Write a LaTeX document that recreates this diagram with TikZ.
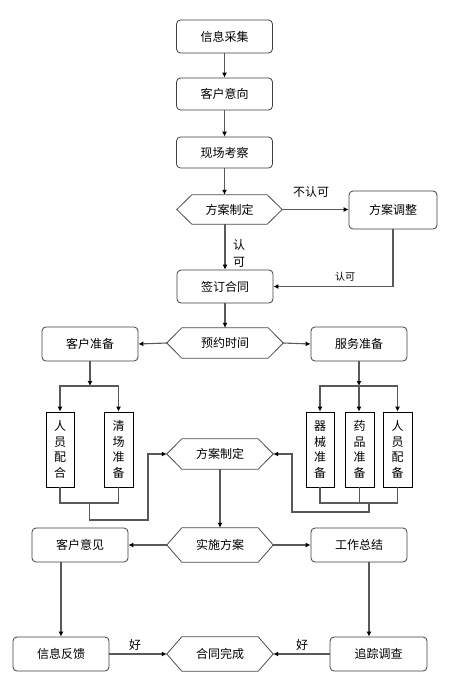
\documentclass[tikz,border=0pt]{standalone}
\usepackage{fontspec}
\setmainfont{Noto Sans CJK SC}
\usetikzlibrary{arrows.meta}
\newcommand\hexoutline[1]{\draw[hexline] (#1.west) -- ([xshift=15pt]#1.north west) -- ([xshift=-15pt]#1.north east) -- (#1.east) -- ([xshift=-15pt]#1.south east) -- ([xshift=15pt]#1.south west) -- cycle;}
\tikzset{
  box/.style={draw=black!75, line width=0.8pt, rounded corners=4pt, minimum width=96pt, minimum height=34pt, inner sep=0pt, font=\fontsize{12}{14}\selectfont},
  hexnode/.style={minimum width=106pt, minimum height=30pt, inner sep=0pt, font=\fontsize{12}{14}\selectfont},
  hexline/.style={draw=black!70, line width=0.8pt},
  vbox/.style={draw=black, line width=0.8pt, minimum width=28pt, minimum height=75pt, inner sep=0pt, align=center, font=\fontsize{12}{15.5}\selectfont},
  arr/.style={draw=black!65, line width=1.1pt, -{Latex[length=5pt,width=5pt,color=black]}},
  ln/.style={draw=black!65, line width=1.1pt},
  lbl/.style={font=\fontsize{12}{14}\selectfont, inner sep=0pt},
}
\begin{document}
\begin{tikzpicture}[x=1pt,y=-1pt]
\useasboundingbox[fill=white] (0,0) rectangle (462,687);
% nodes
\node[box, minimum height=33pt] (n1) at (224.5,36.5) {信息采集};
\node[box, minimum height=32pt] (n2) at (224.5,94) {客户意向};
\node[box, minimum height=31pt] (n3) at (224.5,152.5) {现场考察};
\node[hexnode, minimum width=105pt, minimum height=29pt] (h1) at (229.5,209.5) {方案制定};
\hexoutline{h1}
\node[box, minimum width=88pt, minimum height=38pt] (adj) at (393,210) {方案调整};
\node[box, minimum height=33pt] (n4) at (225,286.5) {签订合同};
\node[hexnode, minimum width=116pt] (h2) at (225,343) {预约时间};
\hexoutline{h2}
\node[box] (kz) at (90,344) {客户准备};
\node[box] (fz) at (359,344) {服务准备};
\node[vbox] (b1) at (60,449.5) {人\\员\\配\\合};
\node[vbox, minimum width=29pt] (b2) at (118.5,449.5) {清\\场\\准\\备};
\node[vbox] (b3) at (320,449.5) {器\\械\\准\\备};
\node[vbox, minimum width=29pt] (b4) at (359.5,449.5) {药\\品\\准\\备};
\node[vbox, minimum width=29pt] (b5) at (397.5,449.5) {人\\员\\配\\备};
\node[hexnode] (h3) at (220,454) {方案制定};
\hexoutline{h3}
\node[box] (kyj) at (80,545) {客户意见};
\node[hexnode, minimum height=34pt] (h4) at (220,545) {实施方案};
\hexoutline{h4}
\node[box] (gz) at (359,545) {工作总结};
\node[box] (xx) at (61,654) {信息反馈};
\node[hexnode, minimum height=34pt] (h5) at (220,654) {合同完成};
\hexoutline{h5}
\node[box, minimum width=97pt] (zz) at (378.5,654) {追踪调查};
% coordinates
\coordinate (kj) at (90,386);
\coordinate (fj) at (359,386);
\coordinate (kb) at (89.5,503);
\coordinate (fb) at (369,503);
% connectors
\draw[arr] (n1) -- (n2);
\draw[arr] (n2) -- (n3);
\draw[arr] (n3.south) -- (n3.south |- h1.north);
\draw[arr] (h1.east) -- (adj.west |- h1.east);
\node[lbl] (l1) at (311,192) {不认可};
\draw[arr] (n4.north |- h1.south) -- (n4.north);
\node[lbl] (l2) at (239,245) {认};
\node[lbl] (l3) at (239,262) {可};
\draw[arr] (adj.south) |- (n4.east);
\node[lbl, font=\fontsize{10}{12}\selectfont] (l4) at (345,277) {认可};
\draw[arr] (n4) -- (h2);
\draw[arr] (h2.west) -- (kz.east);
\draw[arr] (h2.east) -- (fz.west);
\draw[arr] (kz.south) -- (kj);
\draw[arr] (kj) -| (b1.north);
\draw[arr] (kj) -| (b2.north);
\draw[arr] (fz.south) -- (fj);
\draw[arr] (fj) -| (b3.north);
\draw[arr] (fj) -- (fj |- b4.north);
\draw[arr] (fj) -| (b5.north);
\draw[ln] (b1.south) |- (kb) -| (b2.south);
\draw[arr] (kb) |- (148,520) |- (h3.west);
\draw[ln] (b3.south) |- (b5.south |- fb) -- (b5.south);
\draw[ln] (b4.south) -- (b4.south |- fb);
\draw[arr] (fb) |- (292,512) |- (h3.east);
\draw[arr] (h3.south) -- (h4.north);
\draw[arr] (h4.west) -- (kyj.east);
\draw[arr] (h4.east) -- (gz.west);
\draw[arr] (xx.north |- kyj.south) -- (xx.north);
\draw[arr] ([xshift=10pt]gz.south) -- ([xshift=10pt]gz.south |- zz.north);
\draw[arr] (xx.east) -- (h5.west);
\node[lbl] (l5) at (135,645) {好};
\draw[arr] (zz.west) -- (h5.east);
\node[lbl] (l6) at (302,645) {好};
\end{tikzpicture}
\end{document}
